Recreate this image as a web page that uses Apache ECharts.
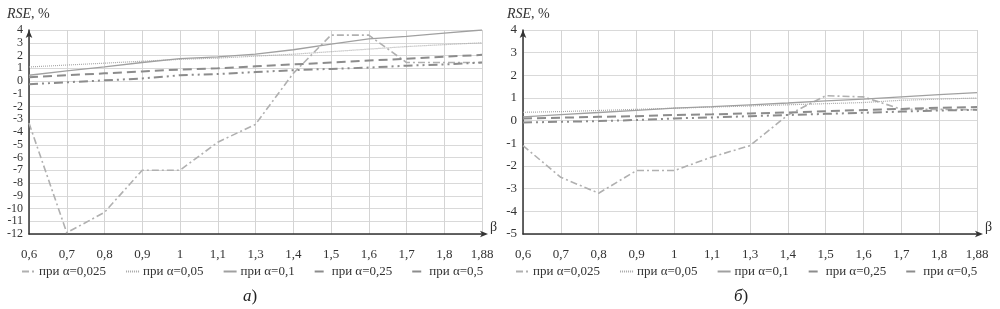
<!DOCTYPE html>
<html>
<head>
<meta charset="utf-8">
<script src="https://cdn.jsdelivr.net/npm/echarts@6/dist/echarts.min.js"></script>
<style>
  html, body { margin: 0; padding: 0; background: #fff; }
  #chart { width: 1000px; height: 309px; }
</style>
</head>
<body>
<div id="chart"></div>
<script>
// значения β по оси X
const betaLabels = ['0,6', '0,7', '0,8', '0,9', '1', '1,1', '1,3', '1,4', '1,5', '1,6', '1,7', '1,8', '1,88'];
const seriesNames = ['при α=0,025', 'при α=0,05', 'при α=0,1', 'при α=0,25', 'при α=0,5'];

// панель а)
const leftA025 = [-3.3, -11.9, -10.3, -7.0, -7.0, -4.8, -3.4, 0.6, 3.6, 3.6, 1.45, 1.45, 1.45];
const leftA05  = [1.1, 1.25, 1.4, 1.55, 1.7, 1.8, 1.95, 2.1, 2.3, 2.5, 2.7, 2.85, 3.0];
const leftA1   = [0.45, 0.8, 1.1, 1.45, 1.75, 1.9, 2.1, 2.45, 2.9, 3.3, 3.5, 3.75, 4.0];
const leftA25  = [0.3, 0.45, 0.6, 0.75, 0.9, 1.0, 1.15, 1.3, 1.45, 1.6, 1.75, 1.9, 2.05];
const leftA5   = [-0.25, -0.1, 0.05, 0.2, 0.45, 0.55, 0.7, 0.85, 0.95, 1.05, 1.2, 1.3, 1.45];

// панель б)
const rightA025 = [-1.1, -2.5, -3.2, -2.2, -2.2, -1.6, -1.1, 0.25, 1.1, 1.05, 0.5, 0.5, 0.48];
const rightA05  = [0.37, 0.4, 0.45, 0.5, 0.55, 0.6, 0.65, 0.7, 0.75, 0.8, 0.9, 0.95, 1.0];
const rightA1   = [0.17, 0.27, 0.36, 0.45, 0.55, 0.62, 0.7, 0.78, 0.87, 0.95, 1.05, 1.15, 1.24];
const rightA25  = [0.1, 0.13, 0.17, 0.2, 0.25, 0.28, 0.32, 0.36, 0.42, 0.47, 0.52, 0.57, 0.6];
const rightA5   = [-0.08, -0.05, -0.02, 0.03, 0.1, 0.14, 0.2, 0.25, 0.3, 0.35, 0.4, 0.45, 0.48];

const serif = '"Liberation Serif", "DejaVu Serif", serif';

// стили линий для каждого α
const styles = [
  { color: '#b0b0b0', width: 1.6, type: [7, 3, 2, 3] },
  { color: '#a8a8a8', width: 1.2, type: [1, 1] },
  { color: '#a0a0a0', width: 1.3, type: 'solid' },
  { color: '#8c8c8c', width: 2, type: [9, 5] },
  { color: '#8c8c8c', width: 2, type: [9, 4, 2, 4, 2, 4] }
];

function makeSeries(datas, axisIndex) {
  return datas.map((d, i) => ({
    name: seriesNames[i],
    type: 'line',
    xAxisIndex: axisIndex,
    yAxisIndex: axisIndex,
    data: d,
    showSymbol: false,
    symbol: 'none',
    lineStyle: styles[i],
    itemStyle: { color: styles[i].color },
    z: 3
  }));
}

function xAxisOpt(gridIndex) {
  return {
    type: 'category',
    gridIndex: gridIndex,
    data: betaLabels,
    boundaryGap: false,
    name: 'β',
    nameLocation: 'end',
    nameGap: 8,
    nameTextStyle: { fontFamily: serif, fontSize: 14, color: '#333', verticalAlign: 'bottom' },
    axisLine: { onZero: false, symbol: ['none', 'arrow'], symbolSize: [5, 8], symbolOffset: [0, 6], lineStyle: { color: '#333', width: 1.5 } },
    axisTick: { show: false },
    axisLabel: { fontFamily: serif, fontSize: 13, color: '#333', margin: 14, interval: 0 },
    splitLine: { show: true, lineStyle: { color: '#d4d4d4', width: 1 } }
  };
}

function yAxisOpt(gridIndex, min) {
  return {
    type: 'value',
    gridIndex: gridIndex,
    min: min,
    max: 4,
    interval: 1,
    axisLine: { show: true, symbol: ['none', 'arrow'], symbolSize: [5, 8], lineStyle: { color: '#333', width: 1.5 } },
    axisTick: { show: false },
    axisLabel: { fontFamily: serif, fontSize: gridIndex === 0 ? 12 : 13, color: '#333', margin: 6, showMinLabel: true, showMaxLabel: true, hideOverlap: false },
    splitLine: { show: true, lineStyle: { color: '#d9d9d9', width: 1 } }
  };
}

function legendOpt(left) {
  return {
    data: seriesNames,
    left: left,
    top: 260,
    width: 490,
    itemWidth: 13,
    itemHeight: 6,
    itemGap: 19,
    itemStyle: { opacity: 0 },
    textStyle: { fontFamily: serif, fontSize: 13, color: '#333', padding: [0, 0, 0, -1] },
    selectedMode: false
  };
}

const chart = echarts.init(document.getElementById('chart'));
chart.setOption({
  backgroundColor: '#fff',
  animation: false,
  title: [
    { text: '{i|RSE}, %', left: 2, top: 2, textStyle: { fontFamily: serif, fontSize: 14, fontWeight: 'normal', color: '#333', rich: { i: { fontFamily: serif, fontSize: 14, fontStyle: 'italic', color: '#333' } } } },
    { text: '{i|RSE}, %', left: 502, top: 2, textStyle: { fontFamily: serif, fontSize: 14, fontWeight: 'normal', color: '#333', rich: { i: { fontFamily: serif, fontSize: 14, fontStyle: 'italic', color: '#333' } } } },
    { text: '{i|а})', left: 238, top: 283, textStyle: { fontFamily: serif, fontSize: 17, fontWeight: 'normal', color: '#222', rich: { i: { fontFamily: serif, fontSize: 17, fontStyle: 'italic', color: '#222' } } } },
    { text: '{i|б})', left: 729, top: 283, textStyle: { fontFamily: serif, fontSize: 17, fontWeight: 'normal', color: '#222', rich: { i: { fontFamily: serif, fontSize: 17, fontStyle: 'italic', color: '#222' } } } }
  ],
  legend: [legendOpt(16), legendOpt(510)],
  grid: [
    { left: 29, top: 30, width: 453, height: 204 },
    { left: 523, top: 30, width: 454, height: 204 }
  ],
  xAxis: [xAxisOpt(0), xAxisOpt(1)],
  yAxis: [yAxisOpt(0, -12), yAxisOpt(1, -5)],
  series: [
    ...makeSeries([leftA025, leftA05, leftA1, leftA25, leftA5], 0),
    ...makeSeries([rightA025, rightA05, rightA1, rightA25, rightA5], 1)
  ]
});
</script>
</body>
</html>
